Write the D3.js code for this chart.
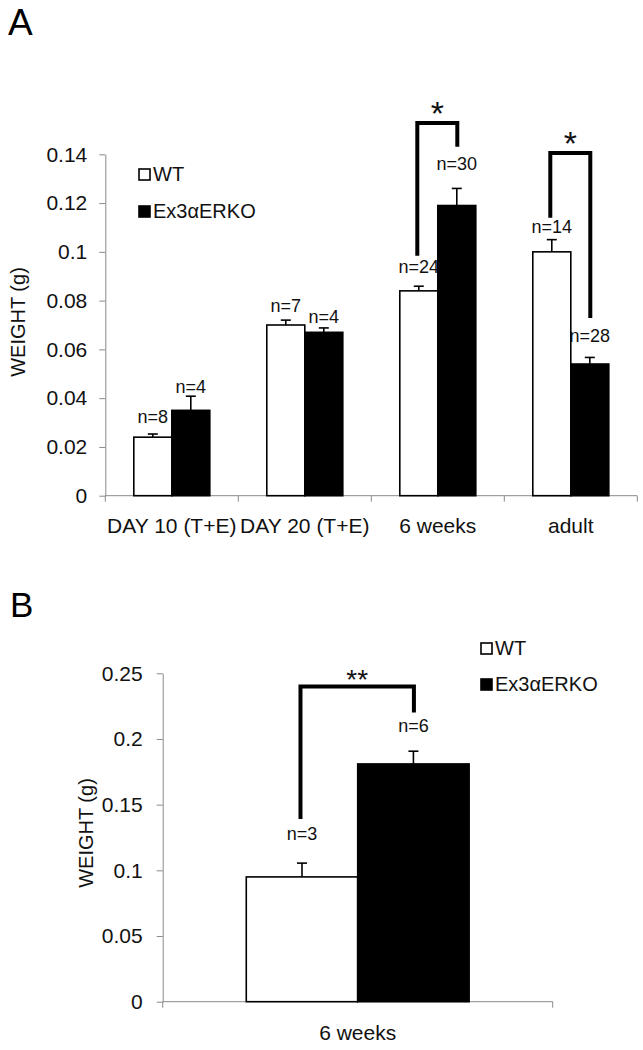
<!DOCTYPE html>
<html><head><meta charset="utf-8">
<script src="https://cdn.jsdelivr.net/npm/d3@7"></script>
<style>
html,body{margin:0;padding:0;background:#fff;}
svg{display:block;font-family:"Liberation Sans",Arial,sans-serif;}
</style></head>
<body><svg id="c" width="643" height="1050"></svg>
<script>
// ---------- Panel A data ----------
const categoriesA = ["DAY 10 (T+E)", "DAY 20 (T+E)", "6 weeks", "adult"];
const wtA    = [0.024, 0.070, 0.084, 0.100];
const wtErrA = [0.0013, 0.002, 0.0019, 0.005];
const koA    = [0.035, 0.067, 0.119, 0.054];
const koErrA = [0.0058, 0.0018, 0.007, 0.0027];
const wtNA   = ["n=8", "n=7", "n=24", "n=14"];
const koNA   = ["n=4", "n=4", "n=30", "n=28"];
const wtNLevelA = [0.0298, 0.0755, 0.0913, 0.1077];
const koNLevelA = [0.0421, 0.0708, 0.1336, 0.0630];
const ticksA = [0, 0.02, 0.04, 0.06, 0.08, 0.1, 0.12, 0.14];
const bracketCatA   = ["6 weeks", "adult"];
const bracketTopA   = [0.1528, 0.1405];
const bracketLeftA  = [0.0984, 0.1140];
const bracketRightA = [0.1431, 0.0729];
const bracketMarkA  = ["*", "*"];

// ---------- Panel B data ----------
const categoriesB = ["6 weeks"];
const wtB    = [0.095];
const wtErrB = [0.0105];
const koB    = [0.181];
const koErrB = [0.0097];
const wtNB   = ["n=3"];
const koNB   = ["n=6"];
const wtNLevelB = [0.1232];
const koNLevelB = [0.2054];
const ticksB = [0, 0.05, 0.1, 0.15, 0.2, 0.25];
const bracketCatB   = ["6 weeks"];
const bracketTopB   = [0.2399];
const bracketLeftB  = [0.1391];
const bracketRightB = [0.2201];
const bracketMarkB  = ["**"];

const seriesNames = ["WT", "Ex3\u03b1ERKO"];

const svg = d3.select("#c");
svg.append("rect").attr("width", 643).attr("height", 1050).attr("fill", "#fff");
const AX = "#8a8a8a";
const fmt = d => String(+d.toFixed(4));

function panel(o) {
  const g = svg.append("g");
  const x = d3.scaleBand().domain(o.cats).range(o.xr).paddingInner(0).paddingOuter(0);
  const y = d3.scaleLinear().domain(o.ydom).range(o.yr);
  const xs = d3.scaleBand().domain(["WT", "KO"]).range([0, x.bandwidth()]).paddingInner(0).paddingOuter(0.75);

  // y axis
  const ya = g.append("g").attr("transform", `translate(${o.xr[0]},0)`)
    .call(d3.axisLeft(y).tickValues(o.ticks).tickFormat(fmt).tickSize(6).tickSizeOuter(0).tickPadding(o.tickPad));
  ya.select(".domain").attr("stroke", AX);
  ya.selectAll(".tick line").attr("stroke", AX);
  ya.selectAll(".tick text").attr("fill", "#111").attr("font-size", o.tickFont).attr("font-family", "Liberation Sans, Arial, sans-serif");

  // x axis line with boundary ticks
  const y0 = y(0);
  g.append("line").attr("x1", o.xr[0]).attr("x2", o.xr[1]).attr("y1", y0).attr("y2", y0).attr("stroke", AX);
  const bounds = o.cats.map(c => x(c)).concat([x(o.cats[o.cats.length - 1]) + x.bandwidth()]);
  g.selectAll(".bt").data(bounds).join("line")
    .attr("x1", d => d).attr("x2", d => d).attr("y1", y0).attr("y2", y0 + 6).attr("stroke", AX);
  g.selectAll(".xl").data(o.cats).join("text")
    .attr("x", d => x(d) + x.bandwidth() / 2).attr("y", o.xLabelY)
    .attr("text-anchor", "middle").attr("font-size", o.tickFont).attr("fill", "#111").text(d => d);

  // bars
  const rows = o.cats.map((c, i) => [
    {c, s: "WT", v: o.wt[i], e: o.wtErr[i], n: o.wtN[i], nl: o.wtNL[i]},
    {c, s: "KO", v: o.ko[i], e: o.koErr[i], n: o.koN[i], nl: o.koNL[i]}
  ]).flat();
  const bx = d => x(d.c) + xs(d.s);
  const cx = d => bx(d) + xs.bandwidth() / 2;

  // error bars (drawn before bars so bar top edge covers stem base)
  g.selectAll(".eb").data(rows).join("line")
    .attr("x1", cx).attr("x2", cx).attr("y1", d => y(d.v)).attr("y2", d => y(d.v + d.e))
    .attr("stroke", "#000").attr("stroke-width", 1.6);
  g.selectAll(".ec").data(rows).join("line")
    .attr("x1", d => cx(d) - 5).attr("x2", d => cx(d) + 5).attr("y1", d => y(d.v + d.e)).attr("y2", d => y(d.v + d.e))
    .attr("stroke", "#000").attr("stroke-width", 1.6);
  g.selectAll(".bar").data(rows).join("rect")
    .attr("x", bx).attr("width", xs.bandwidth())
    .attr("y", d => y(d.v)).attr("height", d => y(0) - y(d.v))
    .attr("fill", d => d.s === "WT" ? "#fff" : "#000")
    .attr("stroke", "#000").attr("stroke-width", 1.6);

  // n labels
  g.selectAll(".nl").data(rows).join("text")
    .attr("x", cx).attr("y", d => y(d.nl))
    .attr("text-anchor", "middle").attr("font-size", o.nFont).attr("fill", "#111").text(d => d.n);

  // significance brackets
  o.bCat.forEach((c, i) => {
    const lx = x(c) + xs("WT") + xs.bandwidth() / 2 - 1.5;
    const rx = x(c) + xs("KO") + xs.bandwidth() / 2 + 0.5;
    const ty = y(o.bTop[i]);
    g.append("path")
      .attr("d", `M${lx},${y(o.bLeft[i])}V${ty}H${rx}V${y(o.bRight[i])}`)
      .attr("fill", "none").attr("stroke", "#000").attr("stroke-width", 4).attr("stroke-linejoin", "miter");
    g.append("text").attr("x", (lx + rx) / 2).attr("y", ty + 2)
      .attr("text-anchor", "middle").attr("font-size", o.starFont).attr("fill", "#111").text(o.bMark[i]);
  });

  // y title
  g.append("text")
    .attr("transform", `translate(${o.yTitle[0]},${o.yTitle[1]}) rotate(-90)`)
    .attr("text-anchor", "middle").attr("font-size", 20).attr("fill", "#111").text("WEIGHT (g)");

  // legend
  seriesNames.forEach((nm, i) => {
    const ly = o.leg[1] + i * o.legGap;
    g.append("rect").attr("x", o.leg[0]).attr("y", ly - 12).attr("width", 11).attr("height", 11)
      .attr("fill", i === 0 ? "#fff" : "#000").attr("stroke", "#000").attr("stroke-width", 1.6);
    g.append("text").attr("x", o.leg[0] + 14).attr("y", ly).attr("font-size", 20).attr("fill", "#111").text(nm);
  });

  // panel letter
  g.append("text").attr("x", o.letter[0]).attr("y", o.letter[1]).attr("font-size", o.letter[3]).attr("fill", "#000").text(o.letter[2]);
}

panel({
  cats: categoriesA, wt: wtA, wtErr: wtErrA, ko: koA, koErr: koErrA,
  wtN: wtNA, koN: koNA, wtNL: wtNLevelA, koNL: koNLevelA,
  ydom: [0, 0.14], yr: [495.7, 154.3], xr: [105.3, 637.3], ticks: ticksA,
  tickPad: 12, tickFont: 21, nFont: 18, starFont: 34, xLabelY: 533,
  bCat: bracketCatA, bTop: bracketTopA, bLeft: bracketLeftA, bRight: bracketRightA, bMark: bracketMarkA,
  yTitle: [25, 322], leg: [139, 181], legGap: 37, letter: [8, 35, "A", 37]
});
panel({
  cats: categoriesB, wt: wtB, wtErr: wtErrB, ko: koB, koErr: koErrB,
  wtN: wtNB, koN: koNB, wtNL: wtNLevelB, koNL: koNLevelB,
  ydom: [0, 0.25], yr: [1001.7, 673.3], xr: [162.7, 552.7], ticks: ticksB,
  tickPad: 14, tickFont: 21, nFont: 18, starFont: 28, xLabelY: 1040,
  bCat: bracketCatB, bTop: bracketTopB, bLeft: bracketLeftB, bRight: bracketRightB, bMark: bracketMarkB,
  yTitle: [93, 833], leg: [481, 655], legGap: 36, letter: [10, 617, "B", 35]
});
</script></body></html>
